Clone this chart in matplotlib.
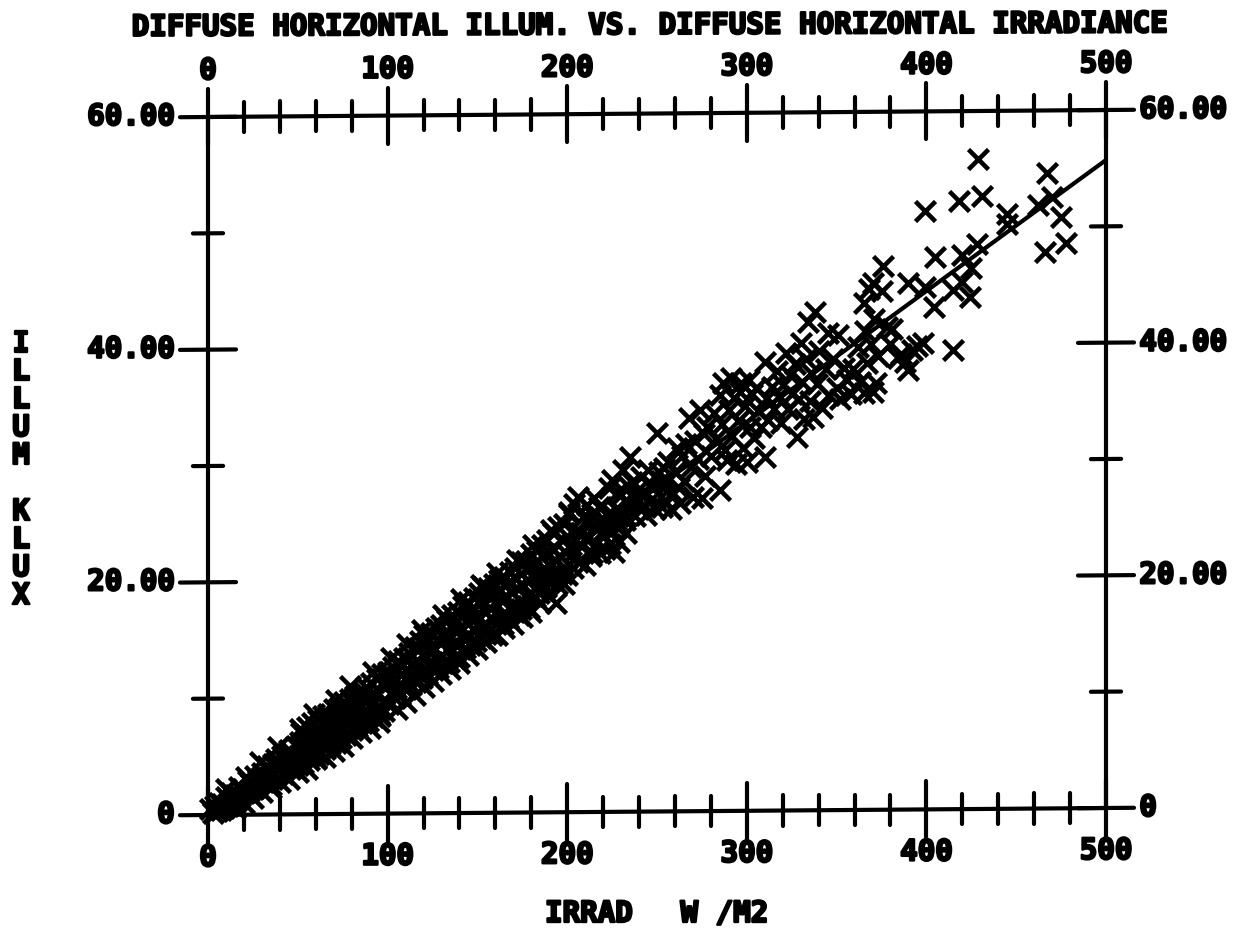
import matplotlib
matplotlib.use("Agg")
import matplotlib.pyplot as plt
import matplotlib.patheffects as pe
from matplotlib.transforms import Affine2D

# Points (irradiance W/m2, illuminance klux)
irrad_low = [1, 3, 4, 5, 6, 7, 8, 9, 10, 11, 12, 13, 14, 15, 16, 17, 18, 19, 20, 22, 23, 24, 25, 26, 27, 28, 30, 31,
             32, 33, 35, 36, 37, 38, 40, 41, 42, 43, 45, 46, 47, 49, 50, 52, 53, 54, 55, 56, 57, 58, 59, 60, 61, 62,
             63, 64, 65, 66, 67, 68, 69, 70, 71, 72, 73, 74, 75, 76, 77, 78, 79, 80, 81, 82, 83, 84, 85, 86, 87, 88,
             89, 90, 91, 92, 93, 94, 95, 96, 97, 98, 99, 100]
illum_low = [0.5, 0.2, 0.8, 0.3, 1.0, 0.4, 0.9, 0.6, 1.5, 0.8, 1.2, 1.9, 1.1, 1.7, 1.3, 2.4, 1.6, 2.2, 1.9, 2.9, 2.0,
             2.6, 2.2, 3.3, 2.5, 3.0, 3.6, 2.9, 3.3, 4.2, 2.5, 4.3, 3.6, 4.8, 4.0, 5.0, 3.5, 4.6, 5.5, 4.0, 5.0, 5.9,
             4.2, 7.0, 4.4, 6.0, 7.5, 4.7, 6.3, 7.8, 5.1, 4.8, 8.1, 5.2, 7.1, 8.4, 5.6, 7.3, 8.6, 6.0, 7.7, 9.0, 6.1,
             8.0, 9.1, 6.5, 8.3, 9.6, 6.8, 8.7, 9.9, 7.2, 9.8, 10.1, 7.5, 9.3, 10.4, 7.8, 9.7, 10.9, 8.0, 10.0, 11.2,
             8.3, 10.2, 11.6, 8.6, 8.4, 12.0, 8.8, 11.0, 12.2]

irrad_band = [101, 102, 103, 104, 105, 106, 107, 108, 109, 110, 111, 112, 113, 114, 115, 116, 117, 118, 119, 120, 121,
              122, 123, 124, 125, 126, 127, 128, 129, 130, 131, 132, 133, 134, 135, 136, 137, 138, 139, 140, 141, 142,
              143, 144, 145, 146, 147, 148, 149, 150, 151, 152, 153, 154, 155, 156, 157, 158, 159, 160, 161, 162, 163,
              164, 165, 166, 167, 168, 169, 170, 171, 172, 173, 174, 175, 176, 177, 178, 179, 180, 181, 182, 183, 184,
              185, 186, 187, 188, 189, 190, 191, 192, 193, 194, 195, 196, 197, 198, 199, 200]
illum_band = [9.4, 11.3, 12.6, 9.9, 10.4, 13.1, 10.2, 12.0, 13.4, 10.7, 12.4, 13.8, 11.0, 12.8, 14.3, 11.3, 13.1, 14.8,
              11.6, 15.3, 13.5, 12.0, 13.9, 15.5, 12.3, 14.2, 15.9, 12.5, 14.6, 16.2, 12.9, 15.0, 16.6, 13.0, 15.3,
              17.0, 13.3, 15.6, 17.3, 13.4, 16.0, 17.8, 14.2, 16.3, 18.1, 14.4, 16.6, 18.5, 14.8, 17.0, 18.9, 15.0,
              19.4, 17.3, 15.4, 19.3, 17.6, 15.3, 19.7, 18.0, 15.3, 20.0, 18.3, 16.2, 20.3, 18.6, 16.7, 20.7, 19.0,
              17.3, 21.0, 19.3, 17.0, 21.5, 19.6, 17.9, 21.6, 20.0, 17.6, 22.2, 20.2, 18.5, 22.5, 20.5, 19.6, 23.0,
              21.0, 19.4, 23.4, 21.3, 20.0, 24.0, 21.7, 18.0, 24.5, 22.0, 20.5, 24.8, 22.4, 20.4]

# Solid part of the cloud: lower edge, upper edge, middle
irrad_edge = [15, 20, 25, 30, 35, 40, 45, 50, 55, 60, 65, 70, 75, 80, 85, 90, 95, 105, 110, 115, 120, 125, 130, 135,
              140, 145, 150, 155, 165, 170, 175, 180, 185, 190, 198, 10, 21, 29, 39, 51, 59, 71, 79, 92, 102, 111,
              119, 131, 141, 152, 161, 172, 181, 191, 201]
illum_edge = [0.6, 1.0, 1.4, 1.9, 2.3, 2.8, 3.0, 3.6, 3.9, 4.7, 4.9, 5.4, 5.8, 6.5, 7.0, 7.4, 7.9, 9.0, 9.6, 10.2,
              10.9, 11.4, 12.0, 12.4, 12.9, 13.6, 14.1, 14.7, 15.9, 16.2, 16.8, 17.2, 18.0, 18.6, 19.6, 2.2, 3.2, 4.5,
              5.8, 7.3, 8.6, 9.8, 11.0, 12.2, 13.4, 14.6, 15.8, 17.0, 18.4, 19.6, 20.6, 21.7, 23.0, 24.3, 25.8]
irrad_fill = [33.5, 44, 48, 51, 53.5, 58.5, 61.5, 63.5, 68.5, 71.5, 73.5, 78.5, 81.5, 83.5, 88.5, 91.5, 93.5, 98.5,
              101.5, 103.5, 108.5, 111.5, 113.5, 118.5, 121.5, 123.5, 128.5, 131.5, 133.5, 138.5, 141.5, 143.5, 148.5,
              151.5, 153.5, 158.5, 161.5, 163.5, 168.5, 171.5, 173.5, 178.5, 181.5, 183.5, 188.5, 191.5, 193.5, 198.5,
              207, 212, 216, 219, 222, 226, 229, 233, 237]
illum_fill = [3.0, 4.9, 4.8, 6.2, 5.3, 5.6, 7.4, 6.2, 6.9, 8.4, 7.1, 7.9, 9.4, 8.0, 8.6, 9.4, 8.9, 9.7, 11.7, 10.6,
              10.9, 13.2, 11.9, 12.2, 14.6, 13.0, 13.3, 15.4, 14.1, 14.4, 16.9, 15.2, 15.6, 18.0, 16.2, 16.6, 19.1,
              17.0, 17.8, 20.1, 18.2, 18.8, 21.4, 19.4, 19.9, 22.6, 20.4, 21.0, 24.0, 25.0, 24.6, 24.0, 24.8, 25.4,
              24.8, 26.8, 27.0]
irrad_core = [34, 37.5, 43.5, 47.5, 54.5, 57.5, 64.5, 67.5, 74.5, 77.5, 84.5, 87.5, 94.5, 97.5, 104.5, 107.5, 114.5,
              117.5, 124.5, 127.5, 134.5, 137.5, 144.5, 147.5, 154.5, 157.5, 164.5, 167.5, 174.5, 177.5, 184.5, 187.5,
              194.5, 197.5, 204, 207.5, 214, 217.5, 224, 227.5, 231, 234, 239, 242, 246, 252, 254, 259]
illum_core = [3.2, 4.1, 5.2, 4.9, 6.8, 5.6, 6.6, 8.1, 7.4, 9.3, 8.2, 10.4, 9.2, 11.3, 10.8, 12.8, 11.6, 14.2, 12.9,
              15.0, 14.2, 16.4, 15.1, 17.6, 15.9, 18.6, 16.8, 19.8, 17.5, 21.0, 18.9, 22.2, 19.6, 23.4, 22.4, 24.0, 22.3,
              26.2, 23.0, 27.4, 25.6, 28.0, 27.6, 26.3, 28.1, 28.4, 29.5, 27.4]

irrad_mid = [201, 202, 203, 204, 205, 206, 206, 208, 209, 210, 211, 212, 213, 214, 215, 216, 217, 218, 219, 220, 221,
             222, 223, 224, 225, 226, 227, 228, 229, 230, 231, 232, 233, 234, 235, 236, 238, 240, 241, 243, 244, 245,
             247, 248, 249, 250, 251, 252, 253, 255, 256, 257, 258, 260, 261, 262, 263, 264, 265, 266, 268, 269, 270,
             271, 273, 274, 275, 276, 277, 278, 280, 282, 283, 285, 285, 286, 287, 288, 289, 290, 291, 292, 293, 294,
             295, 296, 297, 298, 299, 300, 301, 302, 303, 304, 305, 306, 308, 310, 310, 311, 312, 314, 315, 317, 318,
             319, 320, 322, 323, 324, 325, 327, 328, 329, 330, 331, 332, 333, 334, 335, 336, 337, 338, 339, 340, 342,
             344, 345, 346, 348, 350, 351, 352, 354, 356, 358, 359, 362, 363]
illum_mid = [25.6, 23.0, 21.0, 26.5, 24.2, 21.5, 27.1, 22.9, 25.4, 21.2, 26.4, 23.6, 22.0, 25.6, 27.0, 23.0, 24.9, 22.3,
             26.2, 23.8, 22.6, 25.5, 27.8, 24.3, 28.5, 22.3, 26.0, 24.5, 23.2, 27.2, 29.4, 25.1, 24.0, 26.6, 30.5, 28.3,
             25.4, 26.8, 28.8, 27.4, 25.5, 29.4, 26.9, 28.0, 26.0, 32.5, 29.2, 27.0, 26.2, 28.5, 30.0, 27.2, 26.0, 29.2,
             31.2, 27.8, 26.5, 30.5, 28.4, 31.6, 33.8, 29.6, 27.0, 31.8, 30.3, 34.5, 26.9, 32.4, 28.8, 33.0, 30.5, 34.2,
             32.0, 27.6, 35.8, 33.3, 36.8, 31.0, 30.2, 34.5, 37.2, 32.2, 35.5, 29.8, 33.5, 36.0, 36.8, 31.2, 34.8, 30.0,
             37.0, 33.0, 35.8, 32.0, 36.3, 34.4, 33.0, 30.4, 38.6, 35.5, 33.6, 36.4, 34.5, 37.8, 35.6, 33.3, 36.6, 39.3,
             34.5, 37.4, 35.8, 38.4, 32.1, 35.4, 40.2, 36.8, 33.6, 38.8, 42.0, 35.2, 37.6, 33.8, 42.8, 36.6, 39.5, 34.6,
             37.9, 41.0, 35.7, 38.8, 36.3, 40.8, 35.3, 38.0, 37.0, 35.8, 37.9, 39.8, 36.8]

irrad_high = [365, 365, 366, 367, 368, 369, 370, 370, 371, 372, 373, 375, 376, 378, 380, 381, 384, 386, 388, 390, 390,
              392, 395, 398, 399, 399, 404, 405, 415, 415, 418, 420, 420, 424, 425, 428, 429, 431, 445, 445, 462, 466,
              467, 470, 475, 478]
illum_high = [35.8, 43.6, 41.2, 38.4, 44.8, 40.0, 45.3, 35.9, 42.2, 36.7, 39.0, 44.6, 46.7, 41.5, 40.0, 41.3, 38.8,
              39.2, 38.5, 45.3, 37.8, 39.5, 39.8, 40.1, 44.9, 51.4, 43.2, 47.5, 44.6, 39.5, 52.3, 47.6, 45.3, 44.0,
              46.5, 48.6, 55.9, 52.7, 51.1, 50.3, 51.9, 47.8, 54.6, 52.6, 50.8, 48.6]

# Regression line
line_x = [0, 500]
line_y = [0, 55.7]

x_major = [0, 100, 200, 300, 400, 500]
x_minor = [20, 40, 60, 80, 120, 140, 160, 180, 220, 240, 260, 280, 320, 340, 360, 380, 420, 440, 460, 480]
y_major = [0, 20, 40, 60]
y_minor = [10, 30, 50]
y_labels = ["0", "20.00", "40.00", "60.00"]


def main():
    fig = plt.figure(figsize=(12.36, 9.4), dpi=100)
    ax = fig.add_axes([208 / 1236, 125 / 940, 898 / 1236, 698 / 940])
    ax.set_xlim(0, 500)
    ax.set_ylim(0, 60)
    ax.axis("off")

    # The scanned plot is slightly rotated: 7 px rise over the width
    shear = (7 / 11.63) / 500
    tr = Affine2D.from_values(1, shear, 0, 1, 0, 0) + ax.transData

    lw = 3.0
    blob = [pe.withStroke(linewidth=1.7, foreground="black")]

    def seg(xs, ys):
        ax.plot(xs, ys, color="black", lw=lw, transform=tr, clip_on=False, solid_capstyle="round")

    # Frame
    seg([0, 500], [0, 0])
    seg([0, 500], [60, 60])
    seg([0, 0], [0, 60])
    seg([500, 500], [0, 60])

    # Ticks
    for level in [0, 60]:
        for v in x_major:
            seg([v, v], [level - 2.4, level + 2.4])
        for v in x_minor:
            seg([v, v], [level - 1.3, level + 1.3])
    for side in [0, 500]:
        for v in y_major:
            seg([side - 15.6, side + 15.6], [v, v])
        for v in y_minor:
            seg([side - 8.4, side + 8.4], [v, v])

    txt = dict(family="DejaVu Sans Mono", weight="bold", fontsize=21, color="black", path_effects=blob)

    # Tick labels
    for v in x_major:
        ax.annotate(str(v), (v, 60), xycoords=tr, xytext=(0, 33), textcoords="offset points",
                    ha="center", va="center", **txt)
        ax.annotate(str(v), (v, 0), xycoords=tr, xytext=(0, -31), textcoords="offset points",
                    ha="center", va="center", **txt)
    for v, s in zip(y_major, y_labels):
        ax.annotate(s, (0, v), xycoords=tr, xytext=(-24, 0), textcoords="offset points",
                    ha="right", va="center", **txt)
        ax.annotate(s, (500, v), xycoords=tr, xytext=(24, 0), textcoords="offset points",
                    ha="left", va="center", **txt)

    # Data
    clouds = [(irrad_low, illum_low), (irrad_band, illum_band), (irrad_edge, illum_edge), (irrad_fill, illum_fill),
              (irrad_core, illum_core), (irrad_mid, illum_mid), (irrad_high, illum_high)]
    for xs, ys in clouds:
        ax.plot(xs, ys, "x", color="black", ms=14.5, mew=3.3, transform=tr, clip_on=False)
    ax.plot(line_x, line_y, color="black", lw=3.0, transform=tr)

    # Titles
    fig.text(648 / 1236, 1 - 26 / 940, "DIFFUSE HORIZONTAL ILLUM. VS. DIFFUSE HORIZONTAL IRRADIANCE",
             ha="center", va="center", rotation=0.2, **txt)
    fig.text(545 / 1236, 1 - 914 / 940, "IRRAD", ha="left", va="center", **txt)
    fig.text(768 / 1236, 1 - 914 / 940, "W /M2", ha="right", va="center", **txt)
    fig.text(21 / 1236, 1 - 470 / 940, "I\nL\nL\nU\nM\n\nK\nL\nU\nX", ha="center", va="center",
             linespacing=1.0, **txt)

    fig.savefig("out.png", dpi=100)


if __name__ == "__main__":
    main()
